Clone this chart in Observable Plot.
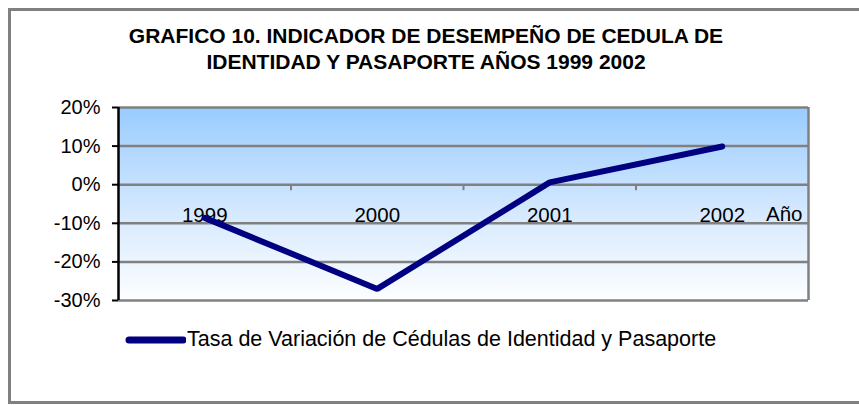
<!DOCTYPE html>
<html>
<head>
<meta charset="utf-8">
<script src="https://cdn.jsdelivr.net/npm/d3@7"></script>
<script src="https://cdn.jsdelivr.net/npm/@observablehq/plot@0.6"></script>
<style>
  html, body { margin: 0; padding: 0; background: #fff; }
  #wrap { position: relative; width: 859px; height: 405px; overflow: hidden; font-family: "Liberation Sans", Arial, sans-serif; }
  #frame { position: absolute; left: 8px; top: 8px; width: 870px; height: 396px; border: 3px solid #808080; box-sizing: border-box; }
  #title { position: absolute; left: 0; width: 852px; top: 23px; text-align: center; font-weight: bold; font-size: 21px; line-height: 26px; color: #000; }
  #chart { position: absolute; left: 0; top: 0; }
  #legend { position: absolute; left: 124px; top: 327px; font-size: 21.5px; color: #000; display: flex; align-items: center; white-space: nowrap; }
  #legend svg { display: block; margin-right: 1px; }
</style>
</head>
<body>
<div id="wrap">
  <div id="frame"></div>
  <div id="title">GRAFICO 10. INDICADOR DE DESEMPEÑO DE CEDULA DE<br>IDENTIDAD Y PASAPORTE AÑOS 1999 2002</div>
  <div id="chart"></div>
  <div id="legend"></div>
</div>
<script>
const years = [1999, 2000, 2001, 2002];
const tasaVariacion = [-8.6, -27.0, 0.6, 9.9];
const yTicks = [20, 10, 0, -10, -20, -30];
const seriesName = "Tasa de Variación de Cédulas de Identidad y Pasaporte";
const xAxisLabel = "Año";

const data = years.map((year, i) => ({year, value: tasaVariacion[i]}));
const xDomain = [years[0] - 0.5, years[years.length - 1] + 0.5];
const boundaries = years.slice(0, -1).map(y => y + 0.5);

const defs = () => {
  const g = d3.create("svg:defs");
  const lg = g.append("linearGradient").attr("id", "bgGrad").attr("x1", 0).attr("y1", 0).attr("x2", 0).attr("y2", 1);
  lg.append("stop").attr("offset", "0%").attr("stop-color", "#99CCFF");
  lg.append("stop").attr("offset", "55%").attr("stop-color", "#D6E9FE");
  lg.append("stop").attr("offset", "100%").attr("stop-color", "#FDFEFF");
  return g.node();
};

const plot = Plot.plot({
  width: 859,
  height: 405,
  marginLeft: 118,
  marginRight: 51,
  marginTop: 107,
  marginBottom: 105,
  style: {fontFamily: "'Liberation Sans', Arial, sans-serif", fontSize: "20px", color: "#000", background: "transparent", overflow: "visible"},
  x: {type: "linear", domain: xDomain, axis: null},
  y: {domain: [-30, 20], axis: null},
  marks: [
    defs,
    Plot.frame({fill: "url(#bgGrad)", stroke: "none"}),
    Plot.ruleY(yTicks, {stroke: "#808080", strokeWidth: 2.5}),
    Plot.ruleX([xDomain[1]], {stroke: "#808080", strokeWidth: 2.5}),
    Plot.ruleX(boundaries, {x: d => d, y1: 0, y2: 0, insetBottom: -6, stroke: "#808080", strokeWidth: 2}),
    Plot.axisY({ticks: yTicks, label: null, tickSize: 6, tickPadding: 12, tickFormat: d => d + "%", stroke: "#000", strokeWidth: 2, fontSize: 20, fill: "#000"}),
    Plot.ruleX([xDomain[0]], {stroke: "#000", strokeWidth: 2.5}),
    Plot.text(years, {x: d => d, y: () => 0, text: d => String(d), dy: 31, fontSize: 20.5, fill: "#000"}),
    Plot.text([xAxisLabel], {x: () => xDomain[1], y: () => 0, text: d => d, dy: 30, dx: -6, textAnchor: "end", fontSize: 20.5, fill: "#000"}),
    Plot.line(data, {x: "year", y: "value", stroke: "#000080", strokeWidth: 6, strokeLinejoin: "miter", strokeLinecap: "round"})
  ]
});
document.getElementById("chart").appendChild(plot);

const leg = document.getElementById("legend");
leg.innerHTML = '<svg width="62" height="12"><line x1="5" y1="6" x2="59" y2="6" stroke="#000080" stroke-width="7" stroke-linecap="round"/></svg><span></span>';
leg.querySelector("span").textContent = seriesName;
</script>
</body>
</html>
